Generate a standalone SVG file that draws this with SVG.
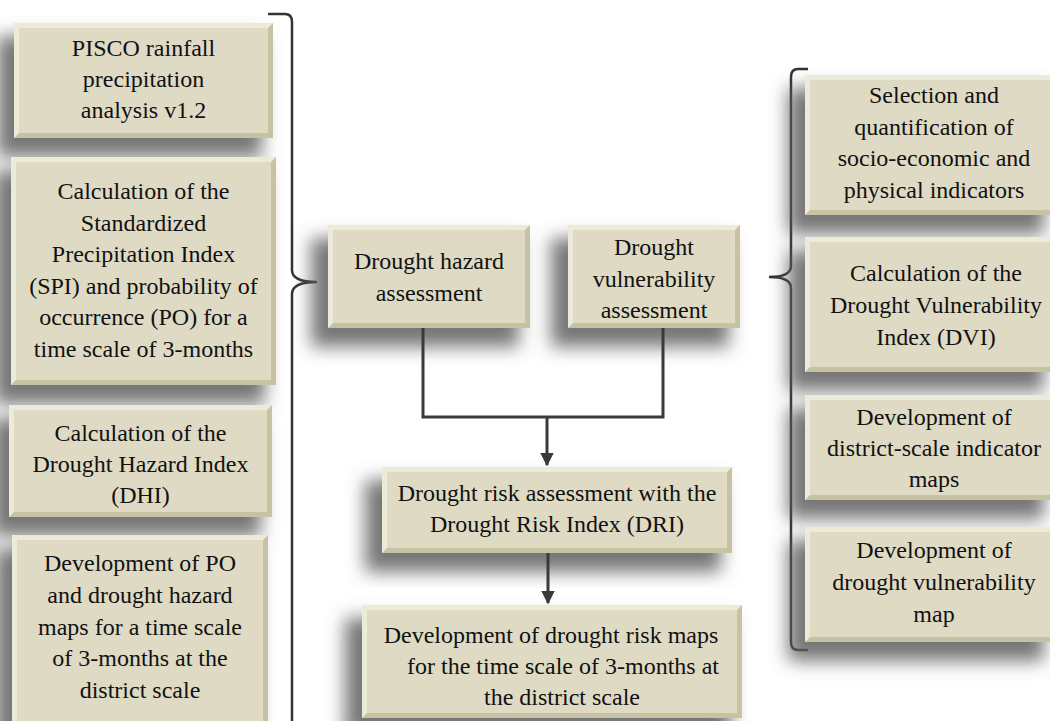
<svg xmlns="http://www.w3.org/2000/svg" width="1050" height="721" viewBox="0 0 1050 721">
<defs>
<filter id="sh" x="-30%" y="-30%" width="160%" height="170%">
<feMorphology in="SourceAlpha" operator="dilate" radius="3" result="d"/>
<feGaussianBlur in="d" stdDeviation="9"/>
<feOffset dx="-14" dy="16" result="b"/>
<feFlood flood-color="#5e5e5e" flood-opacity="0.85"/>
<feComposite in2="b" operator="in"/>
</filter>
<marker id="ah" viewBox="0 0 10 10" refX="9" refY="5" markerWidth="4.5" markerHeight="4.5" orient="auto" markerUnits="strokeWidth">
<path d="M0,0 L10,5 L0,10 Z" fill="#3a3a3a"/>
</marker>
</defs>
<style>
.dk{fill:#c7c2a2}
.lt{fill:#ecead8}
.in{fill:#dedac4}
.sd{fill:#000}
text{font-family:"Liberation Serif","Times New Roman",serif;font-size:24px;fill:#111;text-anchor:middle}
.br{fill:none;stroke:#333;stroke-width:2.5}
.cn{fill:none;stroke:#3a3a3a;stroke-width:3}
</style>
<rect width="1050" height="721" fill="#fff"/>

<g id="left-brace"><path class="br" d="M268,14 H285 Q292,14 292,22 V270 Q292,282 317,282 Q292,282 292,294 V721"/></g>
<g id="right-brace"><path class="br" d="M808,69 H798 Q791,69 791,77 V266 Q791,277 769,277 Q791,277 791,288 V642 Q791,650 798,650 H808"/></g>

<g id="n1">
<rect class="sd" x="14" y="23" width="259" height="115" filter="url(#sh)"/>
<rect class="dk" x="14" y="23" width="259" height="115"/>
<polygon class="lt" points="14,23 273,23 268,28 19,28 19,133 14,138"/>
<rect class="in" x="19" y="28" width="249" height="105"/>
<text x="143.5" y="56">PISCO rainfall</text>
<text x="143.5" y="87">precipitation</text>
<text x="143.5" y="118">analysis v1.2</text>
</g>

<g id="n2">
<rect class="sd" x="11" y="157" width="265" height="228" filter="url(#sh)"/>
<rect class="dk" x="11" y="157" width="265" height="228"/>
<polygon class="lt" points="11,157 276,157 271,162 16,162 16,380 11,385"/>
<rect class="in" x="16" y="162" width="255" height="218"/>
<text x="143.5" y="199">Calculation of the</text>
<text x="143.5" y="230.5">Standardized</text>
<text x="143.5" y="262">Precipitation Index</text>
<text x="143.5" y="293.5">(SPI) and probability of</text>
<text x="143.5" y="325">occurrence (PO) for a</text>
<text x="143.5" y="356.5">time scale of 3-months</text>
</g>

<g id="n3">
<rect class="sd" x="9" y="405" width="263" height="112" filter="url(#sh)"/>
<rect class="dk" x="9" y="405" width="263" height="112"/>
<polygon class="lt" points="9,405 272,405 267,410 14,410 14,512 9,517"/>
<rect class="in" x="14" y="410" width="253" height="102"/>
<text x="140.5" y="441">Calculation of the</text>
<text x="140.5" y="472">Drought Hazard Index</text>
<text x="140.5" y="503">(DHI)</text>
</g>

<g id="n4">
<rect class="sd" x="12" y="535" width="256" height="190" filter="url(#sh)"/>
<rect class="dk" x="12" y="535" width="256" height="190"/>
<polygon class="lt" points="12,535 268,535 263,540 17,540 17,725 12,725"/>
<rect class="in" x="17" y="540" width="246" height="185"/>
<text x="140" y="571">Development of PO</text>
<text x="140" y="603">and drought hazard</text>
<text x="140" y="635">maps for a time scale</text>
<text x="140" y="666">of 3-months at the</text>
<text x="140" y="698">district scale</text>
</g>

<g id="n5">
<rect class="sd" x="328" y="225" width="202" height="103" filter="url(#sh)"/>
<rect class="dk" x="328" y="225" width="202" height="103"/>
<polygon class="lt" points="328,225 530,225 525,230 333,230 333,323 328,328"/>
<rect class="in" x="333" y="230" width="192" height="93"/>
<text x="429" y="269">Drought hazard</text>
<text x="429" y="301">assessment</text>
</g>

<g id="n6">
<rect class="sd" x="568" y="225" width="172" height="103" filter="url(#sh)"/>
<rect class="dk" x="568" y="225" width="172" height="103"/>
<polygon class="lt" points="568,225 740,225 735,230 573,230 573,323 568,328"/>
<rect class="in" x="573" y="230" width="162" height="93"/>
<text x="654" y="255">Drought</text>
<text x="654" y="287">vulnerability</text>
<text x="654" y="318">assessment</text>
</g>

<g id="n7">
<rect class="sd" x="382" y="467" width="350" height="86" filter="url(#sh)"/>
<rect class="dk" x="382" y="467" width="350" height="86"/>
<polygon class="lt" points="382,467 732,467 727,472 387,472 387,548 382,553"/>
<rect class="in" x="387" y="472" width="340" height="76"/>
<text x="557" y="501">Drought risk assessment with the</text>
<text x="557" y="532">Drought Risk Index (DRI)</text>
</g>

<g id="n8">
<rect class="sd" x="362" y="605" width="380" height="113" filter="url(#sh)"/>
<rect class="dk" x="362" y="605" width="380" height="113"/>
<polygon class="lt" points="362,605 742,605 737,610 367,610 367,713 362,718"/>
<rect class="in" x="367" y="610" width="370" height="103"/>
<text x="551" y="643">Development of drought risk maps</text>
<text x="563" y="674">for the time scale of 3-months at</text>
<text x="562" y="705">the district scale</text>
</g>

<g id="n9">
<rect class="sd" x="805" y="75" width="250" height="140" filter="url(#sh)"/>
<rect class="dk" x="805" y="75" width="250" height="140"/>
<polygon class="lt" points="805,75 1055,75 1050,80 810,80 810,210 805,215"/>
<rect class="in" x="810" y="80" width="245" height="130"/>
<text x="934" y="103">Selection and</text>
<text x="934" y="135">quantification of</text>
<text x="934" y="166">socio-economic and</text>
<text x="934" y="198">physical indicators</text>
</g>

<g id="n10">
<rect class="sd" x="805" y="237" width="250" height="135" filter="url(#sh)"/>
<rect class="dk" x="805" y="237" width="250" height="135"/>
<polygon class="lt" points="805,237 1055,237 1050,242 810,242 810,367 805,372"/>
<rect class="in" x="810" y="242" width="245" height="125"/>
<text x="936" y="281">Calculation of the</text>
<text x="936" y="313">Drought Vulnerability</text>
<text x="936" y="345">Index (DVI)</text>
</g>

<g id="n11">
<rect class="sd" x="805" y="395" width="250" height="105" filter="url(#sh)"/>
<rect class="dk" x="805" y="395" width="250" height="105"/>
<polygon class="lt" points="805,395 1055,395 1050,400 810,400 810,495 805,500"/>
<rect class="in" x="810" y="400" width="245" height="95"/>
<text x="934" y="425">Development of</text>
<text x="934" y="456">district-scale indicator</text>
<text x="934" y="487">maps</text>
</g>

<g id="n12">
<rect class="sd" x="805" y="527" width="250" height="115" filter="url(#sh)"/>
<rect class="dk" x="805" y="527" width="250" height="115"/>
<polygon class="lt" points="805,527 1055,527 1050,532 810,532 810,637 805,642"/>
<rect class="in" x="810" y="532" width="245" height="105"/>
<text x="934" y="558">Development of</text>
<text x="934" y="590">drought vulnerability</text>
<text x="934" y="622">map</text>
</g>

<g id="connectors">
<path class="cn" d="M423,328 V417 H663 V328"/>
<path class="cn" d="M547,417 V465" marker-end="url(#ah)"/>
<path class="cn" d="M548,553 V603" marker-end="url(#ah)"/>
</g>
</svg>
